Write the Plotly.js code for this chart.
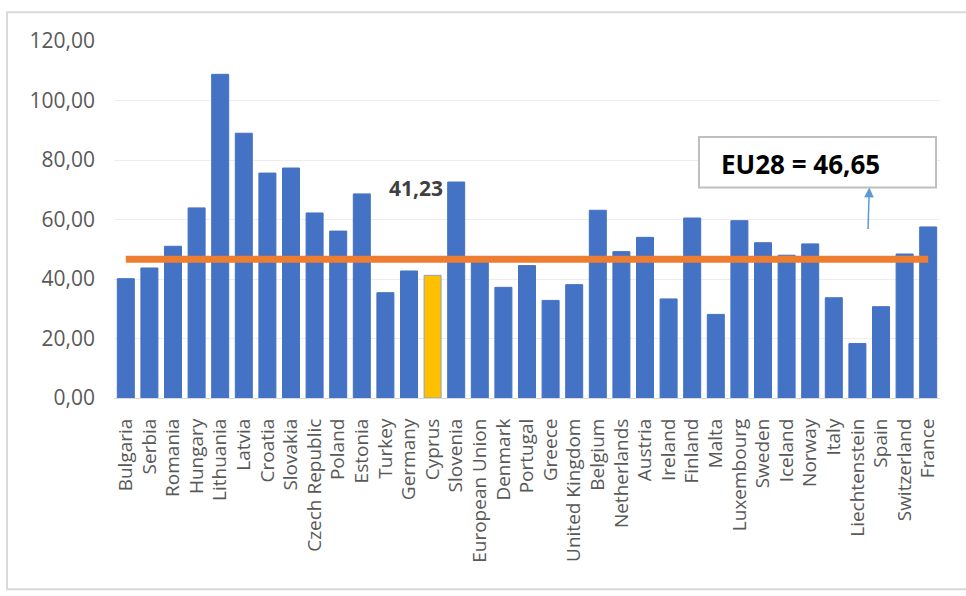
<!DOCTYPE html>
<html>
<head>
<meta charset="utf-8">
<script src="https://cdn.plot.ly/plotly-3.0.1.min.js"></script>
<style>html,body{margin:0;padding:0;background:#fff}#chart{width:966px;height:596px}</style>
</head>
<body>
<div id="chart"></div>
<script>
const countries = ["Bulgaria","Serbia","Romania","Hungary","Lithuania","Latvia","Croatia","Slovakia","Czech Republic","Poland","Estonia","Turkey","Germany","Cyprus","Slovenia","European Union","Denmark","Portugal","Greece","United Kingdom","Belgium","Netherlands","Austria","Ireland","Finland","Malta","Luxembourg","Sweden","Iceland","Norway","Italy","Liechtenstein","Spain","Switzerland","France"];
const values = [40.1,43.7,51.0,63.9,108.8,89.0,75.6,77.3,62.2,56.1,68.6,35.4,42.7,41.23,72.6,46.0,37.2,44.5,32.8,38.1,63.1,49.2,54.0,33.3,60.5,28.1,59.6,52.2,48.0,51.8,33.7,18.3,30.7,48.4,57.5];
const highlight = "Cyprus";
const eu28 = 46.65;
const eu28Label = "EU28 = 46,65";
const highlightLabel = "41,23";
const yTicks = [0,20,40,60,80,100,120];

const blue = "#4472C4", gold = "#FFC000", orange = "#ED7D31";
const barColors = countries.map(c => c === highlight ? gold : blue);
const lineColors = countries.map(c => c === highlight ? "#8EA1C6" : blue);
const hiIdx = countries.indexOf(highlight);

const traces = [
  {type:"bar", x:countries, y:values, marker:{color:barColors, line:{color:lineColors, width:1}}, hoverinfo:"x+y", showlegend:false},
  {type:"scatter", mode:"lines", x:countries, y:countries.map(() => eu28), line:{color:orange, width:7}, hoverinfo:"skip", showlegend:false}
];

const font = "'Open Sans', 'Noto Sans', sans-serif";
const layout = {
  width:966, height:596,
  margin:{l:114, r:26, t:40.7, b:198.3},
  paper_bgcolor:"#fff", plot_bgcolor:"#fff",
  separators:",.",
  bargap:0.28,
  font:{family:font, color:"#595959"},
  xaxis:{type:"category", tickmode:"array", tickvals:countries, ticktext:countries, tickangle:-90,
         tickfont:{size:19, color:"#595959", family:font}, ticks:"", ticklabelstandoff:12,
         showline:true, linecolor:"#d9d9d9", linewidth:1, showgrid:false, fixedrange:true},
  yaxis:{range:[0,120], tickvals:yTicks, tickformat:".2f", tickfont:{size:21, color:"#595959", family:font}, ticks:"",
         ticklabelstandoff:18, showgrid:true, gridcolor:"#ededed", gridwidth:1, zeroline:false, showline:false, fixedrange:true},
  shapes:[
    {type:"rect", xref:"paper", yref:"paper", x0:-0.1295, x1:1.045, y0:-0.5359, y1:1.0804, line:{color:"#d9d9d9", width:2}, fillcolor:"rgba(0,0,0,0)", layer:"below"},
    {type:"rect", xref:"paper", yref:"paper", x0:0.7082, x1:0.9952, y0:0.5894, y1:0.7311, line:{color:"#bfbfbf", width:2}, fillcolor:"#fff"}
  ],
  annotations:[
    {xref:"paper", yref:"paper", x:0.7324, y:0.6546, xanchor:"left", yanchor:"middle", text:"<b>"+eu28Label+"</b>", showarrow:false, font:{size:26, color:"#000", family:font}},
    {xref:"paper", yref:"paper", x:0.9144, y:0.5894, text:"", showarrow:true, ax:-1.3, ay:43, arrowcolor:"#5B9BD5", arrowwidth:1.5, arrowhead:2, arrowsize:1.3},
    {xref:"x", yref:"y", x:hiIdx-0.72, y:70.5, text:"<b>"+highlightLabel+"</b>", showarrow:false, font:{size:21, color:"#404040", family:font}}
  ]
};
Plotly.newPlot("chart", traces, layout, {displayModeBar:false, staticPlot:true});
</script>
</body>
</html>
